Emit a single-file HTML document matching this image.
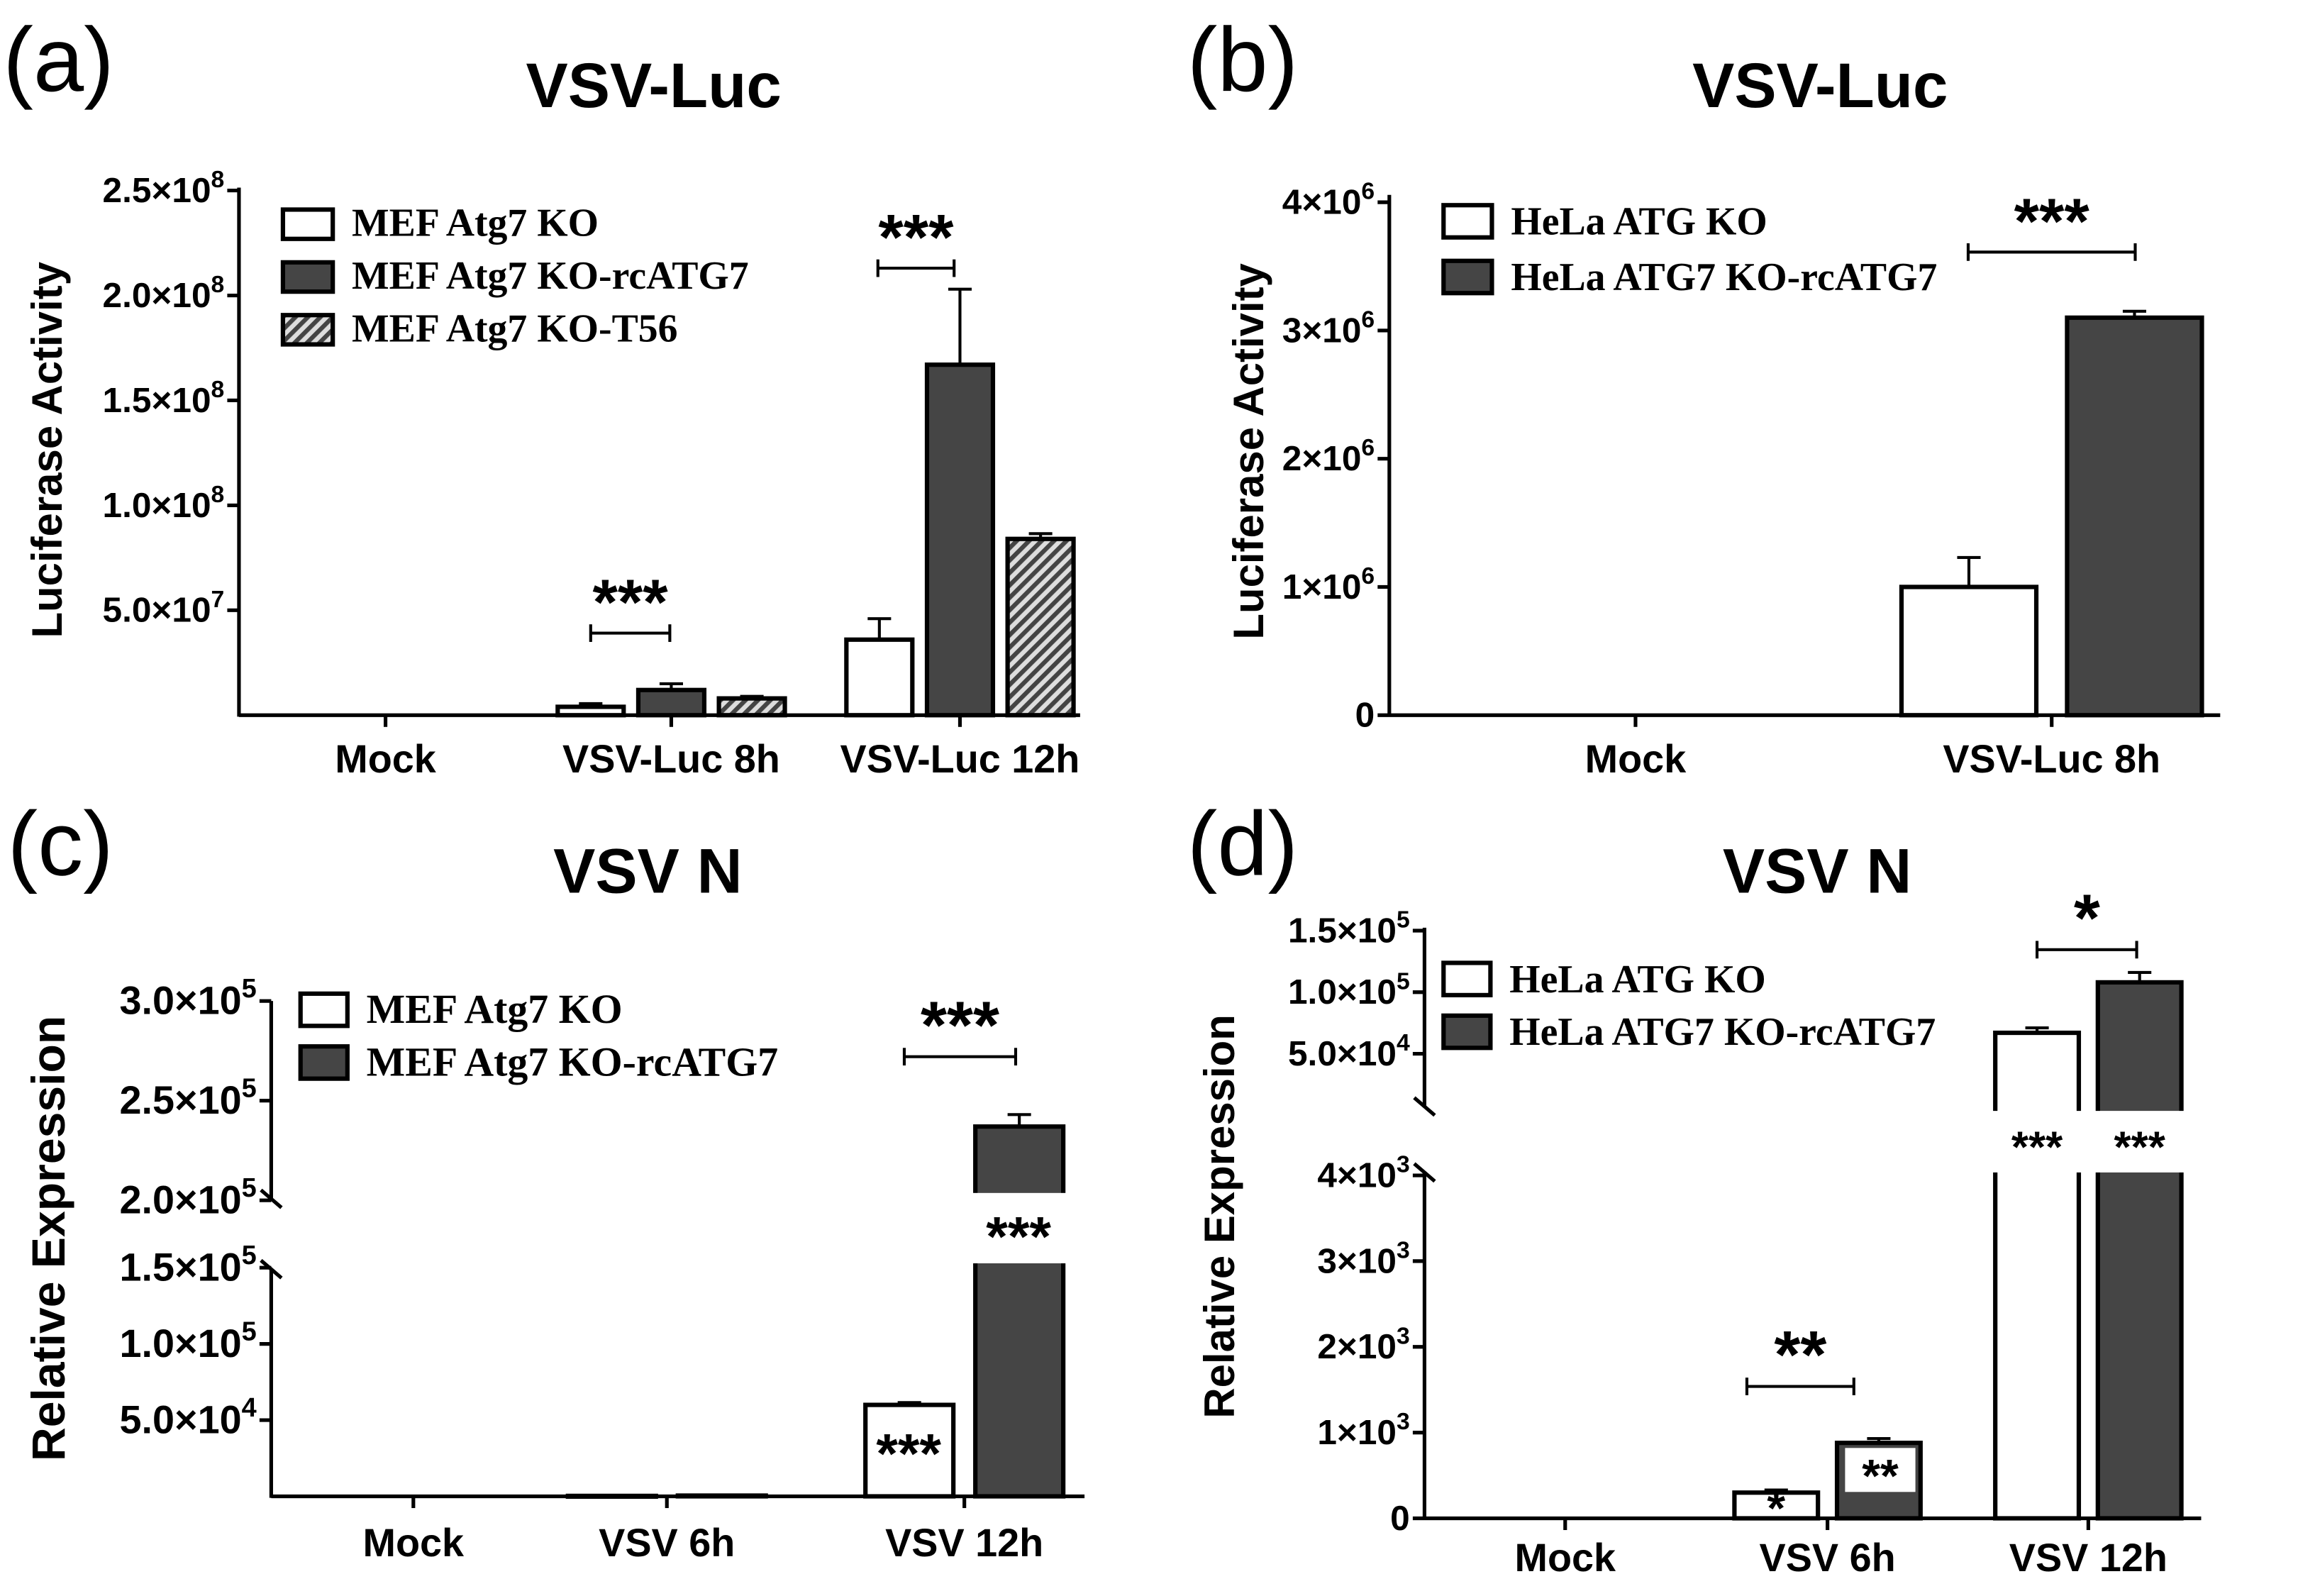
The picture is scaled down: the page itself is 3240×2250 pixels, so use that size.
<!DOCTYPE html>
<html><head><meta charset="utf-8"><style>
html,body{margin:0;padding:0;background:#fff}
svg{display:block}
text{font-family:"Liberation Sans",sans-serif}
.tk{font-weight:bold;text-anchor:end}
.sf{font-family:"Liberation Serif",serif;font-weight:bold}
</style></head><body>
<svg id="fig" width="3240" height="2250" viewBox="0 0 1568 1089" xmlns="http://www.w3.org/2000/svg">
<defs><pattern id="hatch" patternUnits="userSpaceOnUse" width="6" height="6" patternTransform="rotate(45)"><rect width="6" height="6" fill="#ddd"/><rect width="3" height="6" fill="#444"/></pattern></defs>
</svg>
<script>
// ---- Data ----
const aCats=["Mock","VSV-Luc 8h","VSV-Luc 12h"];
const aSeries=["MEF Atg7 KO","MEF Atg7 KO-rcATG7","MEF Atg7 KO-T56"];
const aVals=[[0,4e6,3.6e7],[0,1.2e7,1.67e8],[0,8e6,8.4e7]];
const aErr=[[0,1.5e6,1e7],[0,3e6,3.6e7],[0,1e6,2.5e6]];
const aTicks=[[5e7,"5.0",7],[1e8,"1.0",8],[1.5e8,"1.5",8],[2e8,"2.0",8],[2.5e8,"2.5",8]];
const bCats=["Mock","VSV-Luc 8h"];
const bSeries=["HeLa ATG KO","HeLa ATG7 KO-rcATG7"];
const bVals=[[0,1.0e6],[0,3.1e6]];
const bErr=[[0,0.23e6],[0,0.05e6]];
const bTicks=[[0,"0",null],[1e6,"1",6],[2e6,"2",6],[3e6,"3",6],[4e6,"4",6]];
const cCats=["Mock","VSV 6h","VSV 12h"];
const cSeries=["MEF Atg7 KO","MEF Atg7 KO-rcATG7"];
const cVals=[[0,300,6.0e4],[0,500,2.37e5]];
const cErr=[[0,0,1500],[0,0,6000]];
const cTicksLo=[[5e4,"5.0",4],[1e5,"1.0",5],[1.5e5,"1.5",5]];
const cTicksHi=[[2e5,"2.0",5],[2.5e5,"2.5",5],[3e5,"3.0",5]];
const dCats=["Mock","VSV 6h","VSV 12h"];
const dSeries=["HeLa ATG KO","HeLa ATG7 KO-rcATG7"];
const dVals=[[0,300,6.7e4],[0,880,1.08e5]];
const dErr=[[0,30,4000],[0,50,8000]];
const dTicksLo=[[0,"0",null],[1e3,"1",3],[2e3,"2",3],[3e3,"3",3],[4e3,"4",3]];
const dTicksHi=[[5e4,"5.0",4],[1e5,"1.0",5],[1.5e5,"1.5",5]];

const svg=document.getElementById('fig');
const NS="http://www.w3.org/2000/svg";
function el(tag,attrs,parent,text){const e=document.createElementNS(NS,tag);for(const k in attrs)e.setAttribute(k,attrs[k]);if(text!=null)e.textContent=text;(parent||svg).appendChild(e);return e;}
function line(x1,y1,x2,y2,w,p){return el('line',{x1,y1,x2,y2,stroke:'#000','stroke-width':w||2.5},p);}
function tick(g,x,y,lab,exp,fs){
  fs=fs||24;
  const t=el('text',{x:x,y:y+fs*0.33,class:'tk','font-size':fs},g);
  
  
  if(exp==null){t.textContent=lab;return;}
  el('tspan',{},t,lab+"×10");
  el('tspan',{dy:-fs*0.42,'font-size':fs*0.68},t,String(exp));
}
function fills(i,n){return i===0?'#fff':(i===1?'#454545':'url(#hatch)');}
function bar(g,x,w,top,base,fill){
  const r=el('rect',{x:x,y:top,width:w,height:Math.max(base-top,0.5),fill:fill,stroke:'#000','stroke-width':3},g);
  
  
  return r;
}
function errbar(g,cx,y1,y2){line(cx,y1,cx,y2,2,g);line(cx-8,y1,cx+8,y1,2,g);line(cx-8,y2,cx+8,y2,2,g);}
function sig(g,x1,x2,y,txt,fs){line(x1,y,x2,y,2,g);line(x1,y-6,x1,y+6,2,g);line(x2,y-6,x2,y+6,2,g);
  const t=el('text',{x:(x1+x2)/2,y:y-6,'font-size':fs||44,'font-weight':'bold','text-anchor':'middle'},g,txt);
  
  }
function legend(g,x,y0,dy,series,fs,bw,bh){series.forEach((s,i)=>{
  const r=el('rect',{x:x,y:y0+i*dy,width:bw,height:bh,fill:fills(i),stroke:'#000','stroke-width':3},g);
  
  
  const t=el('text',{x:x+bw+13,y:y0+i*dy+bh-2,'font-size':fs,class:'sf'},g,s);
  
  });}
function titles(g,lab,lx,ly,title,tx,ty,ytitle,yx,yy,yfs){
  const a=el('text',{x:lx,y:ly,'font-size':62},g,lab);
  
  
  const b=el('text',{x:tx,y:ty,'font-size':43,'font-weight':'bold','text-anchor':'middle'},g,title);
  
  
  const c=el('text',{x:yx,y:yy,'font-size':yfs,'font-weight':'bold','text-anchor':'middle',transform:`rotate(-90 ${yx} ${yy})`},g,ytitle);
  
  
}
function xcats(g,cats,cx,y){cats.forEach((c,i)=>{const t=el('text',{x:cx[i],y:y,'font-size':27,'font-weight':'bold','text-anchor':'middle'},g,c);
  
  });}

// ---- Panel A ----
(function(){
  const g=el('g',{});
  const base=488,ax=163,y=v=>base-v/5e7*71.6;
  const centers=[263,458,655],bw=45,off=55;
  titles(g,"(a)",2,62,"VSV-Luc",446,73,"Luciferase Activity",42,307,29);
  line(ax,128,ax,base+1,2.5,g);line(ax,base,737,base,2.5,g);
  aTicks.forEach(t=>{line(ax-8,y(t[0]),ax,y(t[0]),2.5,g);tick(g,ax-10,y(t[0]),t[1],t[2],24);});
  centers.forEach(c=>line(c,base,c,base+8,2.5,g));
  aSeries.forEach((s,i)=>centers.forEach((c,j)=>{const x=c+(i-1)*off;
    if(aVals[i][j]>0){errbar(g,x,y(aVals[i][j]+aErr[i][j]),y(aVals[i][j]-aErr[i][j]));bar(g,x-bw/2,bw,y(aVals[i][j]),base,fills(i));}}));
  xcats(g,aCats,centers,527);
  legend(g,193,143,36,aSeries,27,34,20);
  sig(g,403,457,432,"***",44);sig(g,599,651,183,"***",44);
})();
// ---- Panel B ----
(function(){
  const g=el('g',{});
  const base=488,ax=948,y=v=>base-v/1e6*87.5;
  const centers=[1116,1400],bw=92,off=113;
  titles(g,"(b)",810,62,"VSV-Luc",1242,73,"Luciferase Activity",862,308,29);
  line(ax,133,ax,base+1,2.5,g);line(ax,base,1515,base,2.5,g);
  bTicks.forEach(t=>{line(ax-8,y(t[0]),ax,y(t[0]),2.5,g);tick(g,ax-10,y(t[0]),t[1],t[2],24);});
  centers.forEach(c=>line(c,base,c,base+8,2.5,g));
  bSeries.forEach((s,i)=>centers.forEach((c,j)=>{const x=c+(i-0.5)*off;
    if(bVals[i][j]>0){errbar(g,x,y(bVals[i][j]+bErr[i][j]),y(bVals[i][j]-bErr[i][j]));bar(g,x-bw/2,bw,y(bVals[i][j]),base,fills(i));}}));
  xcats(g,bCats,centers,527);
  legend(g,985,140,38,bSeries,27,33,22);
  sig(g,1343,1457,172,"***",44);
})();
// ---- Broken axis panels ----
function broken(cfg){
  const g=el('g',{});
  const {base,ax,loPer,loUnit,hiRef,hiRefY,hiPer,hiUnit,breakTop,breakBot,loMax}=cfg;
  const y=v=>v<=loMax?base-v/loUnit*loPer:hiRefY-(v-hiRef)/hiUnit*hiPer;
  titles(g,cfg.lab,cfg.lx,597,cfg.title,cfg.tx,609,"Relative Expression",cfg.ytx,cfg.yty,cfg.yfs);
  line(ax,cfg.top,ax,breakTop,2.5,g);line(ax,breakBot,ax,base+1,2.5,g);
  line(ax-7,breakTop-6,ax+7,breakTop+6,2.5,g);line(ax-7,breakBot-6,ax+7,breakBot+6,2.5,g);
  line(ax,base,cfg.xend,base,2.5,g);
  cfg.ticksLo.concat(cfg.ticksHi).forEach(t=>{line(ax-8,y(t[0]),ax,y(t[0]),2.5,g);tick(g,ax-10,y(t[0]),t[1],t[2],cfg.tfs);});
  cfg.centers.forEach(c=>line(c,base,c,base+8,2.5,g));
  cfg.series.forEach((s,i)=>cfg.centers.forEach((c,j)=>{const v=cfg.vals[i][j];if(v<=0)return;const x=c+(i-0.5)*cfg.off;
    if(cfg.errs[i][j]>0)errbar(g,x,y(v+cfg.errs[i][j]),y(v-cfg.errs[i][j]));
    bar(g,x-cfg.bw/2,cfg.bw,y(v),base,fills(i));
    if(v>loMax){el('rect',{x:x-cfg.bw/2-3,y:cfg.gapTop,width:cfg.bw+6,height:cfg.gapBot-cfg.gapTop,fill:'#fff'},g);}
  }));
  xcats(g,cfg.cats,cfg.centers,cfg.base+cfg.xly);
  legend(g,cfg.legx,cfg.legy,36,cfg.series,cfg.legfs,32,22);
  cfg.sigs.forEach(s=>sig(g,s[0],s[1],s[2],s[3],s[4]));
  cfg.inner.forEach(s=>{if(s[3])el('rect',{x:s[0]-24,y:s[1]-22,width:48,height:30,fill:'#fff'},g);
    const t=el('text',{x:s[0],y:s[1]+(s[3]?8:10),'font-size':s[2],'font-weight':'bold','text-anchor':'middle',fill:'#000'},g,s[4]);
    
    });
}
broken({name:'panel-c',lab:"(c)",lx:5,title:"VSV N",tx:442,ytx:44,yty:845,yfs:32,tfs:27,base:1021,ax:185,loPer:52,loUnit:5e4,loMax:1.6e5,
  hiRef:2e5,hiRefY:819,hiPer:68,hiUnit:5e4,top:683,breakTop:818,breakBot:866,xend:740,xly:41,
  ticksLo:cTicksLo,ticksHi:cTicksHi,centers:[282,455,658],off:75,bw:60,series:cSeries,cats:cCats,vals:cVals,errs:cErr,
  gapTop:814,gapBot:862,legx:205,legy:678,legfs:28,
  sigs:[[617,693,721,"***",46]],inner:[[620,995,38,false,"***"],[695,847,38,false,"***"]]});
broken({name:'panel-d',lab:"(d)",lx:810,title:"VSV N",tx:1240,ytx:842,yty:830,yfs:29,tfs:24,base:1036,ax:972,loPer:58.5,loUnit:1e3,loMax:5e3,
  hiRef:5e4,hiRefY:719,hiPer:42,hiUnit:5e4,top:633,breakTop:755,breakBot:800,xend:1502,xly:36,
  ticksLo:dTicksLo,ticksHi:dTicksHi,centers:[1068,1247,1425],off:70,bw:57,series:dSeries,cats:dCats,vals:dVals,errs:dErr,
  gapTop:758,gapBot:800,legx:985,legy:657,legfs:27,
  sigs:[[1192,1265,946,"**",46],[1390,1458,648,"*",46]],inner:[[1212,1030,32,false,"*"],[1283,1010,32,true,"**"],[1390,783,30,false,"***"],[1460,783,30,false,"***"]]});
</script>
</body></html>
